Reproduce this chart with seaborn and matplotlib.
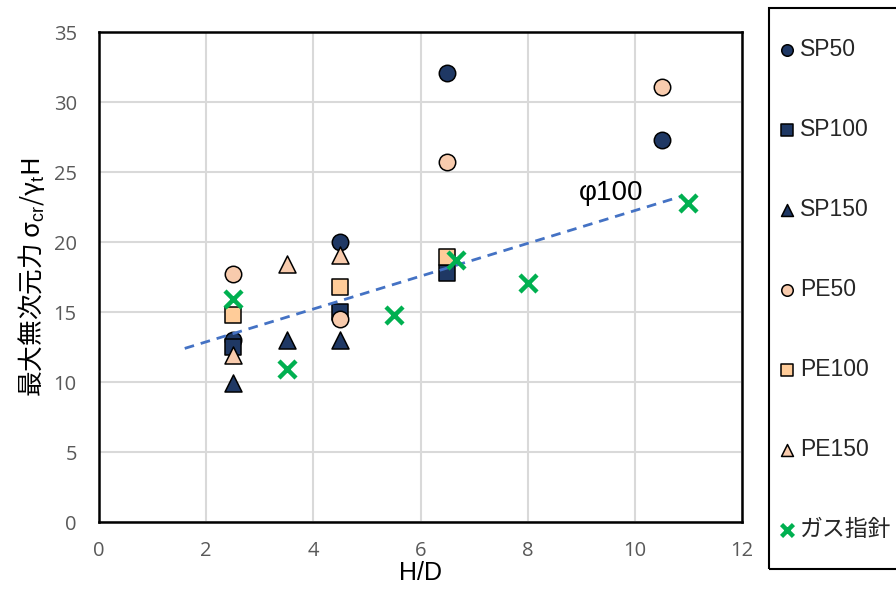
import matplotlib
matplotlib.use("Agg")
import matplotlib.pyplot as plt
from matplotlib.patches import Rectangle
import seaborn as sns
import pandas as pd

# H/D and dimensionless maximum force for each test series
sp50_x = [2.5, 4.5, 6.5, 10.5]
sp50_y = [13.0, 20.0, 32.1, 27.3]
sp100_x = [2.5, 4.5, 6.5]
sp100_y = [12.5, 15.0, 17.8]
sp150_x = [2.5, 3.5, 4.5]
sp150_y = [9.9, 13.0, 13.0]
pe50_x = [2.5, 4.5, 6.5, 10.5]
pe50_y = [17.7, 14.5, 25.7, 31.1]
pe100_x = [2.5, 4.5, 6.5]
pe100_y = [14.8, 16.8, 18.9]
pe150_x = [2.5, 3.5, 4.5]
pe150_y = [11.9, 18.4, 19.1]
gas_x = [2.5, 3.5, 5.5, 6.67, 8.0, 11.0]
gas_y = [15.9, 10.9, 14.8, 18.7, 17.1, 22.8]

# φ100 reference line
line_x = [1.6, 10.9]
line_y = [12.4, 23.3]
line_label = "φ100"

series_names = ["SP50", "SP100", "SP150", "PE50", "PE100", "PE150", "ガス指針"]
x_ticks = [0, 2, 4, 6, 8, 10, 12]
y_ticks = [0, 5, 10, 15, 20, 25, 30, 35]

NAVY = "#1F3864"
PEACH = "#F8CBAD"
APRICOT = "#FFCC99"
GREEN = "#00B050"
BLUE = "#4472C4"

sns.set_theme(style="white")
plt.rcParams["font.family"] = ["Liberation Sans", "Noto Sans CJK JP", "DejaVu Sans"]
plt.rcParams["mathtext.fontset"] = "custom"
plt.rcParams["mathtext.rm"] = "Liberation Sans"
plt.rcParams["mathtext.it"] = "Liberation Sans"

fig = plt.figure(figsize=(8.96, 5.92), dpi=100)
ax = fig.add_axes([99 / 896, 1 - 522 / 592, (742 - 99) / 896, (522 - 32) / 592])

groups = [
    (sp50_x, sp50_y, "o", NAVY),
    (sp100_x, sp100_y, "s", NAVY),
    (sp150_x, sp150_y, "^", NAVY),
    (pe50_x, pe50_y, "o", PEACH),
    (pe100_x, pe100_y, "s", APRICOT),
    (pe150_x, pe150_y, "^", PEACH),
]
sizes = {"o": 140, "s": 130, "^": 150}
for i, (xs, ys, mk, col) in enumerate(groups):
    df = pd.DataFrame({"H/D": xs, "v": ys})
    sns.scatterplot(data=df, x="H/D", y="v", marker=mk, color=col, s=sizes[mk],
                    edgecolor="black", linewidth=1.1, ax=ax, zorder=3 + i * 0.1,
                    label=series_names[i])

df_line = pd.DataFrame({"H/D": line_x, "v": line_y})
sns.lineplot(data=df_line, x="H/D", y="v", color=BLUE, linewidth=2.0,
             linestyle=(0, (3.5, 2.5)), ax=ax, zorder=4)

df_gas = pd.DataFrame({"H/D": gas_x, "v": gas_y})
sns.scatterplot(data=df_gas, x="H/D", y="v", marker="x", color=GREEN, s=150,
                linewidth=3.2, ax=ax, zorder=5, label=series_names[6])

if ax.get_legend() is not None:
    ax.get_legend().remove()

ax.text(9.55, 23.5, line_label, fontsize=20, color="black", ha="center", va="center",
        family=["Liberation Sans", "DejaVu Sans"])

ax.set_xlim(0, 12)
ax.set_ylim(0, 35)
ax.set_xticks(x_ticks)
ax.set_yticks(y_ticks)
ax.grid(True, color="#D9D9D9", linewidth=1.5)
ax.set_axisbelow(True)
for sp in ax.spines.values():
    sp.set_color("black")
    sp.set_linewidth(1.8)
    sp.set_visible(True)
ax.tick_params(axis="both", length=0, labelsize=14.5, labelcolor="#595959")
ax.tick_params(axis="y", pad=16)
ax.tick_params(axis="x", pad=14)
for lab in ax.get_xticklabels() + ax.get_yticklabels():
    lab.set_family(["Open Sans", "DejaVu Sans"])

ax.set_xlabel("H/D", fontsize=18, color="black", labelpad=0,
              family=["Liberation Sans", "DejaVu Sans"])
ax.set_ylabel("最大無次元力 σ$_{\\mathrm{cr}}$/γ$_{\\mathrm{t}}$H", fontsize=18.5, color="black",
              labelpad=5, family=["Noto Sans CJK JP", "DejaVu Sans"])

# legend panel on the right
fig.patches.append(Rectangle((769 / 896, 1 - 569 / 592), 140 / 896, (569 - 8) / 592,
                             transform=fig.transFigure, fill=False, edgecolor="black",
                             linewidth=1.5, zorder=10))
handles, labels = ax.get_legend_handles_labels()
order = [labels.index(n) for n in series_names]
leg = fig.legend([handles[k] for k in order], [labels[k] for k in order],
                 loc="upper left", bbox_to_anchor=(781 / 896, 1 - 38 / 592),
                 frameon=False, markerscale=0.7, handlelength=0.55,
                 handletextpad=0.3, labelspacing=2.49, borderpad=0, borderaxespad=0,
                 prop={"family": ["Liberation Sans", "Noto Sans CJK JP"], "size": 16.5})

fig.savefig("out.png", dpi=100)
